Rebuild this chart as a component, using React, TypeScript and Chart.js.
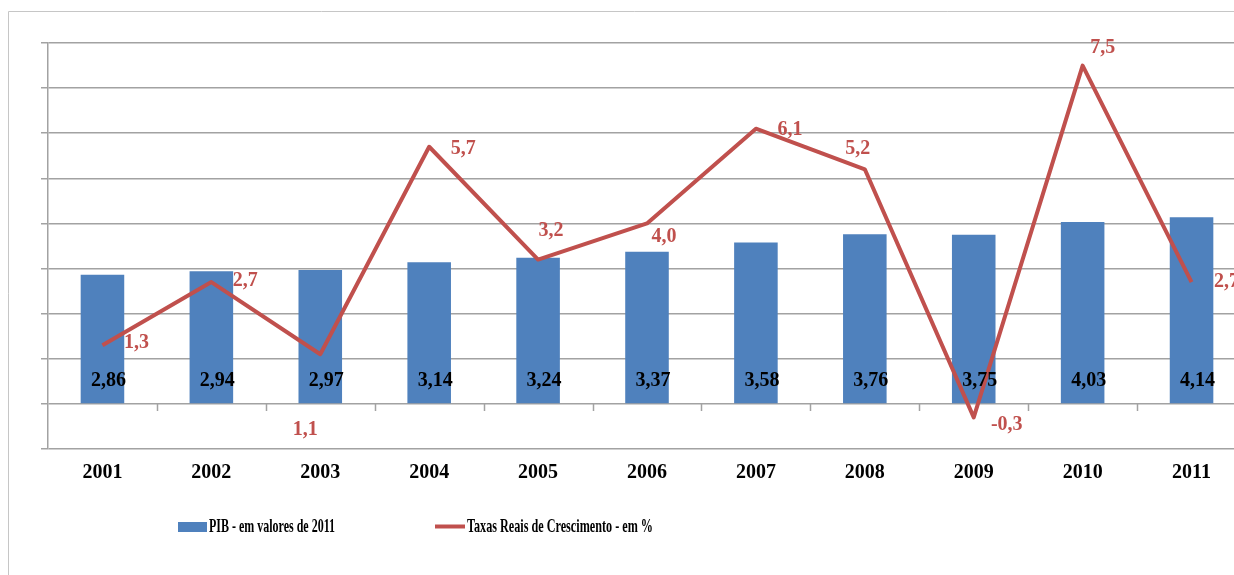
import React, { useEffect, useRef } from "react";
import { Chart, registerables } from "chart.js";

Chart.register(...registerables);

// ---- data ----
const years = ["2001", "2002", "2003", "2004", "2005", "2006", "2007", "2008", "2009", "2010", "2011"];
const pibValues = [2.86, 2.94, 2.97, 3.14, 3.24, 3.37, 3.58, 3.76, 3.75, 4.03, 4.14];
const growthRates = [1.3, 2.7, 1.1, 5.7, 3.2, 4.0, 6.1, 5.2, -0.3, 7.5, 2.7];
const axisMin = -1;
const axisMax = 8;
const axisStep = 1;
const pibLabel = "PIB - em valores de 2011";
const growthLabel = "Taxas Reais de Crescimento - em %";

// ---- styles ----
const BAR_COLOR = "#4F81BD";
const LINE_COLOR = "#C0504D";
const GRID_COLOR = "#a2a2a2";
const FONT = "'Liberation Serif', 'Times New Roman', serif";
// label offsets (label centre relative to the point), as placed in the original
const growthLabelOffsets: [number, number][] = [
  [34, -2], [34, -1], [-15, 76], [34, 2], [13, -29], [17, 13],
  [34, 1], [-7, -20], [33, 7], [20, -18], [35, 0],
];

const fmt = (v: number, d: number) => v.toFixed(d).replace(".", ",");

const overlayPlugin = {
  id: "overlay",
  afterDatasetsDraw(chart: any) {
    const ctx: CanvasRenderingContext2D = chart.ctx;
    const area = chart.chartArea;
    const yScale = chart.scales.y;
    const xScale = chart.scales.x;
    const zeroY = yScale.getPixelForValue(0);
    ctx.save();

    // outer frame (left and top edges visible)
    ctx.strokeStyle = "#c6c6c6";
    ctx.lineWidth = 1;
    ctx.beginPath();
    ctx.moveTo(8.5, chart.height);
    ctx.lineTo(8.5, 11.5);
    ctx.lineTo(chart.width, 11.5);
    ctx.stroke();

    // category tick marks on the zero line
    ctx.strokeStyle = GRID_COLOR;
    ctx.lineWidth = 1.5;
    const n = years.length;
    const catW = (area.right - area.left) / n;
    ctx.beginPath();
    for (let k = 1; k < n; k++) {
      const x = Math.round(area.left + k * catW) + 0.5;
      ctx.moveTo(x, zeroY);
      ctx.lineTo(x, zeroY + 7);
    }
    ctx.stroke();

    // bar value labels (inside base)
    const barMeta = chart.getDatasetMeta(1);
    ctx.font = `bold 20px ${FONT}`;
    ctx.textAlign = "center";
    ctx.textBaseline = "middle";
    ctx.fillStyle = "#000";
    barMeta.data.forEach((el: any, i: number) => {
      ctx.fillText(fmt(pibValues[i], 2), el.x + 6, zeroY - 23);
    });

    // line value labels
    const lineMeta = chart.getDatasetMeta(0);
    ctx.fillStyle = LINE_COLOR;
    lineMeta.data.forEach((el: any, i: number) => {
      const [dx, dy] = growthLabelOffsets[i];
      ctx.fillText(fmt(growthRates[i], 1), el.x + dx, el.y + dy);
    });

    // category labels
    ctx.fillStyle = "#000";
    years.forEach((y, i) => {
      const x = xScale.getPixelForValue(i);
      ctx.fillText(y, x, area.bottom + 24);
    });

    // legend (condensed serif)
    const legendY = 527;
    ctx.font = `bold 19px ${FONT}`;
    ctx.textAlign = "left";
    const drawCondensed = (text: string, x: number, w: number) => {
      const m = ctx.measureText(text).width;
      ctx.save();
      ctx.translate(x, legendY);
      ctx.scale(w / m, 1);
      ctx.fillStyle = "#000";
      ctx.fillText(text, 0, 0);
      ctx.restore();
    };
    ctx.fillStyle = BAR_COLOR;
    ctx.fillRect(178, 522, 29, 10);
    drawCondensed(pibLabel, 209, 126);
    ctx.strokeStyle = LINE_COLOR;
    ctx.lineWidth = 4;
    ctx.beginPath();
    ctx.moveTo(435, 526.5);
    ctx.lineTo(465, 526.5);
    ctx.stroke();
    drawCondensed(growthLabel, 467, 186);

    ctx.restore();
  },
};

export default function App() {
  const ref = useRef<HTMLCanvasElement | null>(null);

  useEffect(() => {
    if (!ref.current) return;
    const chart = new Chart(ref.current, {
      type: "bar",
      data: {
        labels: years,
        datasets: [
          {
            type: "line",
            label: growthLabel,
            data: growthRates,
            borderColor: LINE_COLOR,
            backgroundColor: LINE_COLOR,
            borderWidth: 4,
            pointRadius: 0,
            tension: 0,
            borderJoinStyle: "round",
            order: 0,
          } as any,
          {
            type: "bar",
            label: pibLabel,
            data: pibValues,
            backgroundColor: BAR_COLOR,
            borderWidth: 0,
            barPercentage: 0.4,
            categoryPercentage: 1,
            order: 1,
          } as any,
        ],
      },
      options: {
        responsive: false,
        animation: false,
        devicePixelRatio: 1,
        events: [],
        layout: { padding: { left: 41, top: 43, right: 14, bottom: 126 } },
        plugins: {
          legend: { display: false },
          tooltip: { enabled: false },
          title: { display: false },
        },
        scales: {
          x: { display: false, offset: true },
          y: {
            min: axisMin,
            max: axisMax,
            ticks: { stepSize: axisStep, display: false },
            grid: { color: GRID_COLOR, lineWidth: 1.5, tickLength: 7, drawTicks: true },
            border: { display: true, color: GRID_COLOR, width: 1.5 },
          },
        },
      },
      plugins: [overlayPlugin],
    });
    return () => chart.destroy();
  }, []);

  return (
    <div
      style={{
        position: "absolute",
        left: 0,
        top: 0,
        width: 1234,
        height: 575,
        overflow: "hidden",
        background: "#fff",
      }}
    >
      <canvas ref={ref} width={1260} height={575} style={{ display: "block", width: 1260, height: 575 }} />
    </div>
  );
}
